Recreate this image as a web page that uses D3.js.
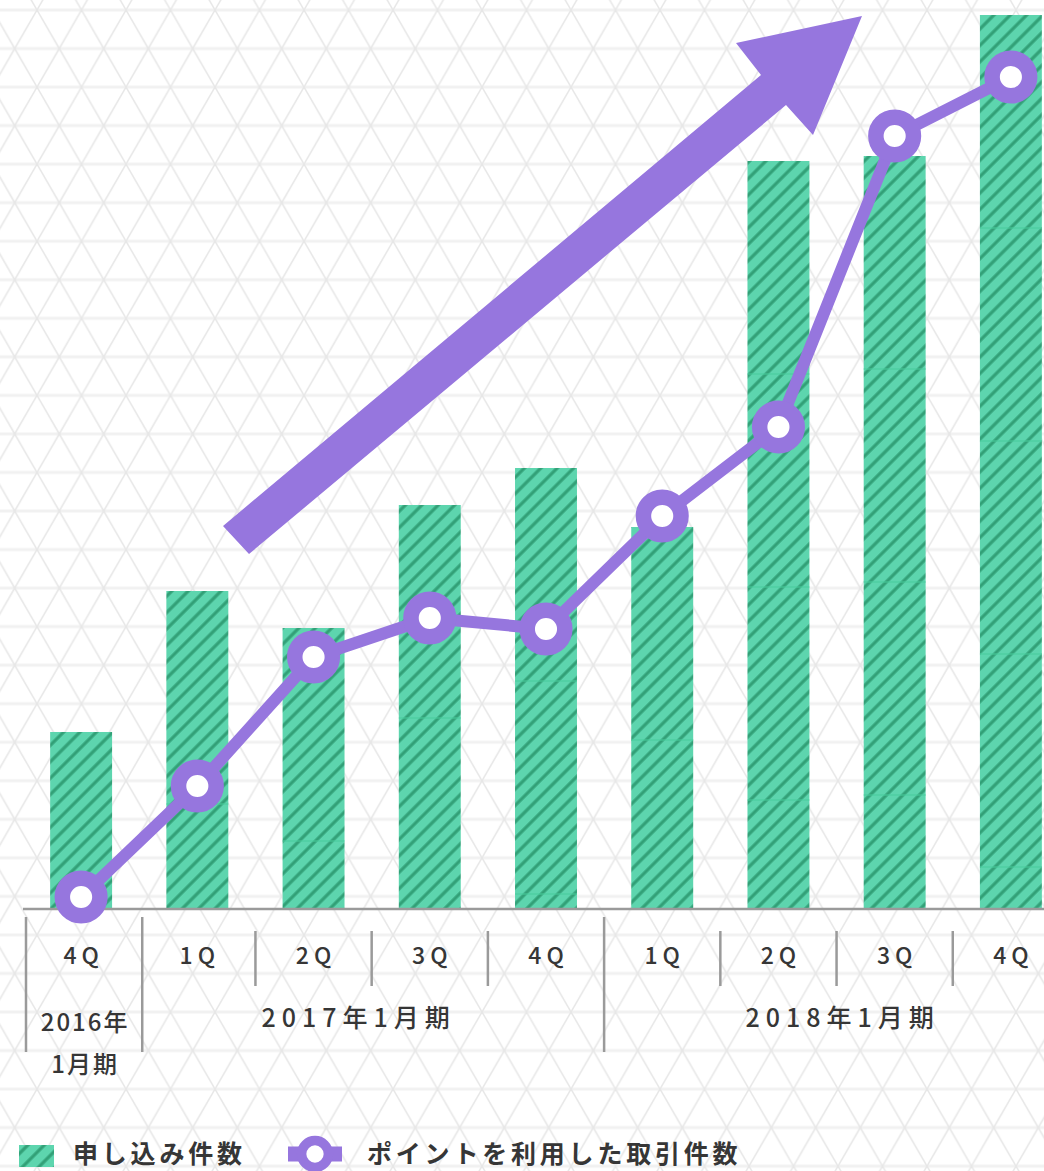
<!doctype html>
<html>
<head>
<meta charset="utf-8">
<title>申し込み件数</title>
<script src="https://d3js.org/d3.v7.min.js"></script>
<style>
  body { margin: 0; background: #fff; }
  svg { display: block; font-family: "Noto Sans CJK JP", "Noto Sans", sans-serif; }
</style>
</head>
<body>
<div id="chart"></div>
<script>

// Data (relative units, no y axis in the original)
const quarters = ["4Q", "1Q", "2Q", "3Q", "4Q", "1Q", "2Q", "3Q", "4Q"];
const applications = [177, 318, 281, 404, 441, 382, 748, 753, 894];
const pointTrades = [12, 123, 252, 291, 280, 393, 482, 773, 832];
const fiscalYears = ["2016年1月期", "2017年1月期", "2018年1月期"];
const yearFirst = [0, 1, 5];
const yearLast = [0, 4, 8];
const seriesNames = ["申し込み件数", "ポイントを利用した取引件数"];

// Setup
const width = 1044, height = 1171;
const purple = "#9676de", green = "#5dd5ae", stripe = "#32a077", ink = "#363636", rule = "#9a9a9a";

const svg = d3.select("#chart").append("svg")
    .attr("width", width)
    .attr("height", height);

const defs = svg.append("defs");

// light triangle lattice in the background
const side = 44.5, rowH = side * Math.sqrt(3) / 2;
const lattice = defs.append("pattern")
    .attr("id", "lattice")
    .attr("patternUnits", "userSpaceOnUse")
    .attr("width", side)
    .attr("height", 2 * rowH)
    .attr("patternTransform", "translate(37,10)");
[0, rowH, 2 * rowH].forEach(function(yy){
    lattice.append("line").attr("x1", 0).attr("x2", side).attr("y1", yy).attr("y2", yy)
        .attr("stroke", "#f1f1f1").attr("stroke-width", 3);
});
[[0, 0, side / 2, rowH], [side, 0, side / 2, rowH], [side / 2, rowH, 0, 2 * rowH], [side / 2, rowH, side, 2 * rowH]]
    .forEach(function(l){
        lattice.append("line").attr("x1", l[0]).attr("y1", l[1]).attr("x2", l[2]).attr("y2", l[3])
            .attr("stroke", "#e7e7e7").attr("stroke-width", 1.5);
    });

// green hatch for the bars
const hatch = defs.append("pattern")
    .attr("id", "hatch")
    .attr("patternUnits", "userSpaceOnUse")
    .attr("width", 11.6)
    .attr("height", 11.6)
    .attr("patternTransform", "rotate(45)");
hatch.append("rect").attr("width", 11.6).attr("height", 11.6).attr("fill", green);
hatch.append("line").attr("x1", 5.8).attr("x2", 5.8).attr("y1", 0).attr("y2", 11.6)
    .attr("stroke", stripe).attr("stroke-width", 3.2);

svg.append("rect").attr("width", width).attr("height", height).attr("fill", "#fff");
svg.append("rect").attr("width", width).attr("height", height).attr("fill", "url(#lattice)");

// Scales
const x = d3.scaleBand()
    .domain(d3.range(quarters.length))
    .range([23, 1069])
    .paddingInner(0.467)
    .paddingOuter(0.2335);
const bw = x.bandwidth();
const gap = x.step() - bw;

const y = d3.scaleLinear().domain([0, 900]).range([909, 9]);

// Big trend arrow (decoration)
const arrowPts = [[223, 526], [761, 75], [736, 43], [862, 16], [813, 135], [786, 105], [249, 554]];
svg.append("path")
    .attr("d", d3.line()(arrowPts) + "Z")
    .attr("fill", purple);

// Bars
svg.selectAll("rect.bar")
    .data(applications)
    .enter()
    .append("rect")
        .attr("class", "bar")
        .attr("x", function(d, i){ return x(i); })
        .attr("y", function(d){ return y(d); })
        .attr("width", bw)
        .attr("height", function(d){ return y(0) - y(d); })
        .attr("fill", "url(#hatch)");

// faint tile seams inside the bars
applications.forEach(function(d, i){
    d3.range(y(d) + 213, y(0) - 2, 213).forEach(function(yy){
        svg.append("line")
            .attr("x1", x(i)).attr("x2", x(i) + bw)
            .attr("y1", yy).attr("y2", yy)
            .attr("stroke", "#48cc9c").attr("stroke-width", 1.2);
    });
});

// Axis line
svg.append("line")
    .attr("x1", 23).attr("x2", width)
    .attr("y1", y(0)).attr("y2", y(0))
    .attr("stroke", rule).attr("stroke-width", 2.5);

// Separators
quarters.forEach(function(q, i){
    const isYear = yearFirst.indexOf(i) >= 0;
    const sx = x(i) - gap / 2 + (i < 2 ? 3 : 0);
    svg.append("line")
        .attr("x1", sx).attr("x2", sx)
        .attr("y1", isYear ? 917 : 931)
        .attr("y2", isYear ? 1052 : 986)
        .attr("stroke", rule).attr("stroke-width", 2.5);
});

// Quarter labels
svg.selectAll("text.q")
    .data(quarters)
    .enter()
    .append("text")
        .attr("class", "q")
        .attr("x", function(d, i){ return x(i) + bw / 2; })
        .attr("y", 964)
        .attr("dx", 2.5)
        .attr("text-anchor", "middle")
        .attr("font-size", 23)
        .attr("font-weight", 500)
        .attr("letter-spacing", 5)
        .attr("fill", ink)
        .text(function(d){ return d; });

// Fiscal year labels
const yearNudge = [3, -16, 3];
fiscalYears.forEach(function(label, k){
    const left = x(yearFirst[k]) - gap / 2;
    const right = x(yearLast[k]) + bw + gap / 2;
    const cx = (left + right) / 2 + yearNudge[k];
    if (yearFirst[k] === yearLast[k]) {
        const parts = label.split("年");
        [parts[0] + "年", parts[1]].forEach(function(t, j){
            svg.append("text")
                .attr("x", cx).attr("y", j === 0 ? 1031 : 1073)
                .attr("dx", 1)
                .attr("text-anchor", "middle")
                .attr("font-size", 24)
                .attr("font-weight", 500)
                .attr("letter-spacing", 2)
                .attr("fill", ink)
                .text(t);
        });
    } else {
        svg.append("text")
            .attr("x", cx).attr("y", 1027)
            .attr("dx", 3)
            .attr("text-anchor", "middle")
            .attr("font-size", 25)
            .attr("font-weight", 500)
            .attr("letter-spacing", 6)
            .attr("fill", ink)
            .text(label);
    }
});

// Line series
svg.append("path")
    .datum(pointTrades)
    .attr("d", d3.line()
        .x(function(d, i){ return x(i) + bw / 2; })
        .y(function(d){ return y(d); }))
    .attr("fill", "none")
    .attr("stroke", purple)
    .attr("stroke-width", 12)
    .attr("stroke-linejoin", "round");

svg.selectAll("circle.pt")
    .data(pointTrades)
    .enter()
    .append("circle")
        .attr("class", "pt")
        .attr("cx", function(d, i){ return x(i) + bw / 2; })
        .attr("cy", function(d){ return y(d); })
        .attr("r", 18.8)
        .attr("fill", "#fff")
        .attr("stroke", purple)
        .attr("stroke-width", 15.5);

// Legend
const legY = 1154;
svg.append("rect")
    .attr("x", 19).attr("y", legY - 9)
    .attr("width", 35).attr("height", 22)
    .attr("fill", "url(#hatch)");
svg.append("text")
    .attr("x", 73).attr("y", legY + 9)
    .attr("font-size", 25).attr("font-weight", 700)
    .attr("letter-spacing", 3.8)
    .attr("fill", ink)
    .text(seriesNames[0]);

svg.append("line")
    .attr("x1", 288).attr("x2", 342)
    .attr("y1", legY).attr("y2", legY)
    .attr("stroke", purple).attr("stroke-width", 15);
svg.append("circle")
    .attr("cx", 315).attr("cy", legY)
    .attr("r", 13.4)
    .attr("fill", "#fff")
    .attr("stroke", purple).attr("stroke-width", 9.5);
svg.append("text")
    .attr("x", 367).attr("y", legY + 9)
    .attr("font-size", 25).attr("font-weight", 700)
    .attr("letter-spacing", 3.8)
    .attr("fill", ink)
    .text(seriesNames[1]);

</script>
</body>
</html>
